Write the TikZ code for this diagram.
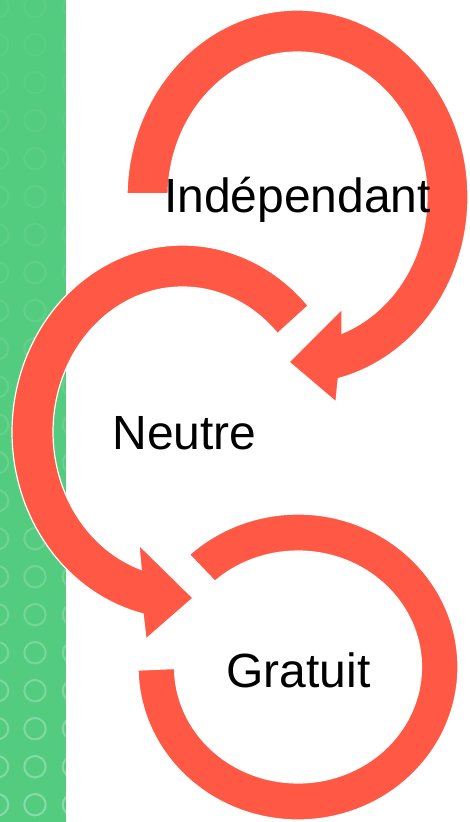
\documentclass[tikz,border=0pt]{standalone}
\usepackage{fontspec}
\setmainfont{Liberation Sans}
\definecolor{stripgreen}{RGB}{83,204,127}
\definecolor{arcred}{RGB}{255,88,69}
\begin{document}
\begin{tikzpicture}[x=1pt,y=-1pt,
  redband/.style={fill=arcred, draw=white, line width=1.2pt, line join=miter},
  lbl/.style={anchor=base, inner sep=0pt, font=\fontsize{48}{58}\selectfont, text=black},
  ringdot/.style={draw=white, line width=2pt}]
\useasboundingbox (0,0) rectangle (470,822);
\fill[white] (0,0) rectangle (470,822);
\fill[stripgreen] (0,0) rectangle (66,822);
\begin{scope}
  \clip (0,0) rectangle (66,822);
  \foreach \r in {0,...,22}{
    \pgfmathsetmacro\yy{6.7+38*\r}
    \pgfmathsetmacro\op{0.05+0.28*(\r/22)^2}
    \foreach \cx in {-2.4,35,73.4}{
      \draw[ringdot, draw opacity=\op] (\cx,\yy) circle[radius=10.7];
    }
  }
\end{scope}
% top arc (Independant)
\draw[redband]
  plot[domain=0:1, samples=120, variable=\s] ({297.5+170.5*cos(181+255.5*\s)},{197+187*sin(181+255.5*\s)})
  -- (336,402) -- (289,362) -- (342,309)
  -- plot[domain=0:1, samples=120, variable=\s] ({297.5+129.5*cos(429.9-248.9*\s)},{197+145*sin(429.9-248.9*\s)})
  -- cycle;
% middle arc (Neutre)
\draw[redband]
  plot[domain=0:1, samples=120, variable=\s] ({182.5+170.5*cos(317.5-214.4*\s)},{432+187*sin(317.5-214.4*\s)})
  -- (146,639) -- (193,598) -- (139,545)
  -- plot[domain=0:1, samples=120, variable=\s] ({182.5+129.5*cos(108.6+208.9*\s)},{432+145*sin(108.6+208.9*\s)})
  -- cycle;
% bottom arc (Gratuit)
\draw[redband]
  plot[domain=0:1, samples=120, variable=\s] ({298+160*cos(227.3+311.95*\s)},{667+153*sin(227.3+311.95*\s)})
  -- plot[domain=0:1, samples=120, variable=\s] ({298+123.5*cos(539.25-311.95*\s)},{667+116*sin(539.25-311.95*\s)})
  -- cycle;
\node[lbl] (indep) at (297.5,212) {Indépendant};
\node[lbl] (neutre) at (184.5,449) {Neutre};
\node[lbl] (gratuit) at (298.5,687) {Gratuit};
\end{tikzpicture}
\end{document}
